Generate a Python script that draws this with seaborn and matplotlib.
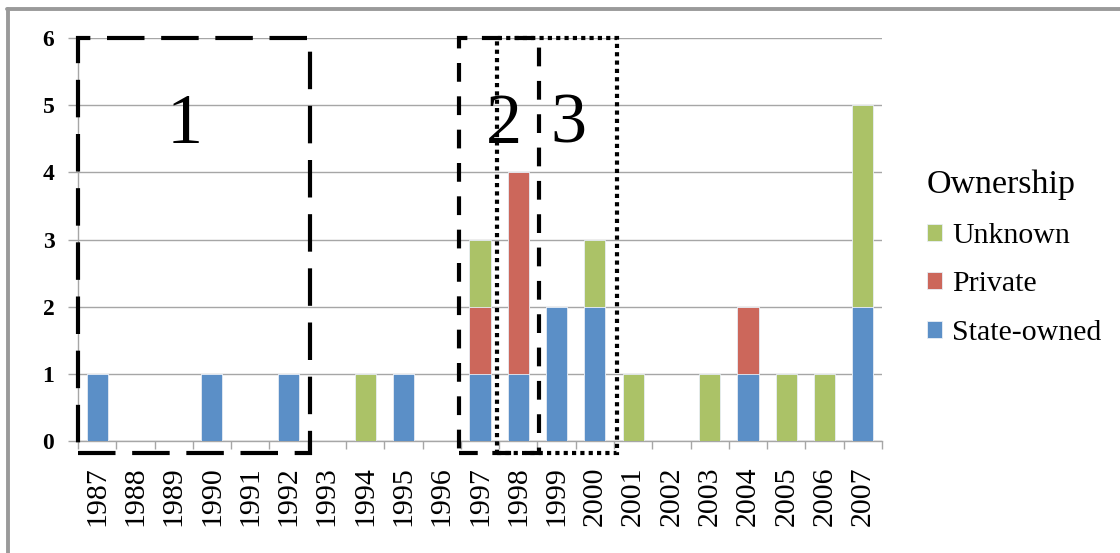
import matplotlib
matplotlib.use("Agg")
import matplotlib.pyplot as plt
from matplotlib.patches import Rectangle, Patch
from matplotlib.lines import Line2D
import seaborn as sns
import pandas as pd

# Ownership of cases per year
years = ["1987", "1988", "1989", "1990", "1991", "1992", "1993", "1994", "1995",
         "1996", "1997", "1998", "1999", "2000", "2001", "2002", "2003", "2004",
         "2005", "2006", "2007"]
state_owned = [1, 0, 0, 1, 0, 1, 0, 0, 1, 0, 1, 1, 2, 2, 0, 0, 0, 1, 0, 0, 2]
private = [0, 0, 0, 0, 0, 0, 0, 0, 0, 0, 1, 3, 0, 0, 0, 0, 0, 1, 0, 0, 0]
unknown = [0, 0, 0, 0, 0, 0, 0, 1, 0, 0, 1, 0, 0, 1, 1, 0, 1, 0, 1, 1, 3]

series_names = ["Unknown", "Private", "State-owned"]
colors = {"State-owned": "#5b8fc7", "Private": "#cc675b", "Unknown": "#abc267"}

# Period boxes: (label, first year, last year)
periods = [("1", "1987", "1992"), ("2", "1997", "1998"), ("3", "1998", "2000")]

df = pd.DataFrame({"year": years, "state": state_owned,
                   "private": private, "unknown": unknown})
df["lvl1"] = df["state"]
df["lvl2"] = df["state"] + df["private"]
df["lvl3"] = df["lvl2"] + df["unknown"]

sns.set_theme(style="white")
serif = ["Liberation Serif", "DejaVu Serif"]
plt.rcParams["font.family"] = serif
plt.rcParams["text.color"] = "black"

fig = plt.figure(figsize=(11.2, 5.53), dpi=100)
ax = fig.add_axes([0.0696, 0.2025, 0.7179, 0.7288])

# Stacked bars drawn as overlapping cumulative totals
for col, name in [("lvl3", "Unknown"), ("lvl2", "Private"), ("lvl1", "State-owned")]:
    sns.barplot(data=df, x="year", y=col, order=years, color=colors[name],
                width=0.55, saturation=1, linewidth=0.6, edgecolor="#e8eef6",
                ax=ax, zorder=3)

ax.set_xlim(-0.5, len(years) - 0.5)
ax.set_ylim(0, 6)
ax.set_yticks(range(0, 7))
ax.set_xlabel("")
ax.set_ylabel("")

ax.grid(axis="y", color="#a6a6a6", linewidth=1.0, zorder=0)
ax.grid(axis="x", visible=False)
for side in ["top", "right"]:
    ax.spines[side].set_visible(False)
for side in ["left", "bottom"]:
    ax.spines[side].set_color("#a6a6a6")
    ax.spines[side].set_linewidth(1.0)

ax.set_xticks([i - 0.5 for i in range(len(years) + 1)], minor=True)
ax.tick_params(axis="x", which="major", length=0, pad=18, labelsize=21.5,
               labelrotation=90, labelcolor="black")
ax.tick_params(axis="x", which="minor", length=6, width=1.0, color="#a6a6a6",
               direction="out", bottom=True)
ax.tick_params(axis="y", length=7, width=1.0, color="#a6a6a6", left=True,
               pad=10, labelsize=17, labelcolor="black")
for lbl in ax.get_yticklabels():
    lbl.set_fontweight("bold")

# Period boxes and their numbers
box_styles = {
    "1": dict(linestyle=(0, (9, 4)), x0=-0.5, x1=5.56),
    "2": dict(linestyle=(0, (4.5, 3.5)), x0=9.45, x1=11.55),
    "3": dict(linestyle=(0, (1, 1)), x0=10.45, x1=13.58),
}
label_pos = {"1": 2.29, "2": 10.63, "3": 12.3}
for name, y0, y1 in periods:
    st = box_styles[name]
    rect = Rectangle((st["x0"], -0.18), st["x1"] - st["x0"], 6.18,
                     fill=False, edgecolor="black", linewidth=3.0,
                     linestyle=st["linestyle"], clip_on=False, zorder=6)
    ax.add_patch(rect)
    ax.text(label_pos[name], 4.7, name, fontsize=52, ha="center", va="center",
            family=serif, color="black", zorder=7)

# Legend
handles = [Patch(facecolor=colors[n], edgecolor="#e8eef6", linewidth=0.6)
           for n in series_names]
leg = fig.legend(handles, series_names, title="Ownership",
                 loc="upper left", bbox_to_anchor=(0.817, 0.715),
                 frameon=False, fontsize=21.5, title_fontsize=24.5,
                 handlelength=0.5, handleheight=0.5, handletextpad=0.35,
                 labelspacing=0.76, borderaxespad=0)
leg._legend_box.align = "left"

# Outer frame (top and left edges)
fig.add_artist(Line2D([0.007, 0.007], [0.0, 0.984], transform=fig.transFigure,
                      color="#9a9a9a", linewidth=2.8))
fig.add_artist(Line2D([0.006, 1.0], [0.984, 0.984], transform=fig.transFigure,
                      color="#9a9a9a", linewidth=2.8))

fig.savefig("out.png", dpi=100, facecolor="white")
